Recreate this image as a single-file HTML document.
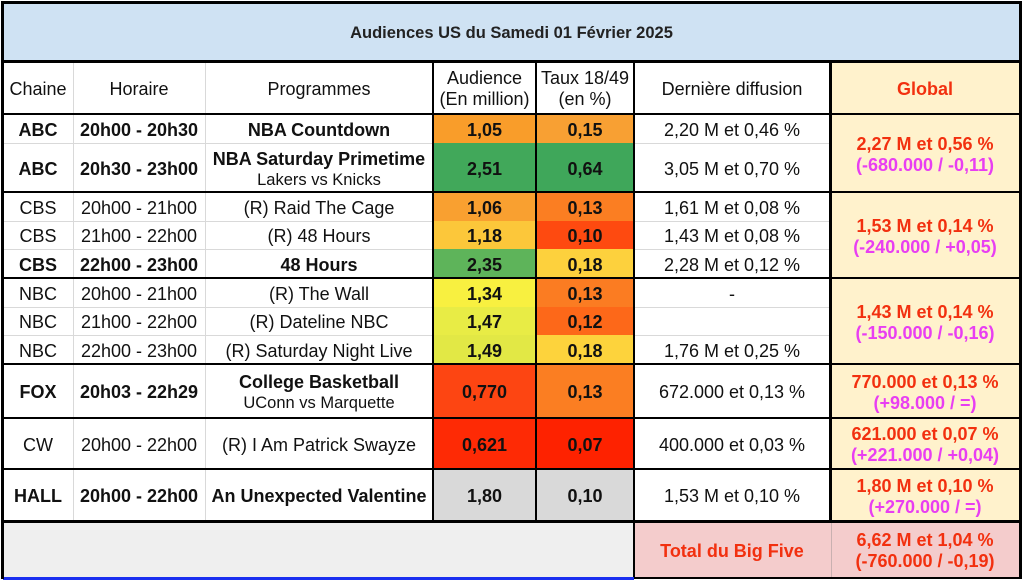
<!DOCTYPE html>
<html><head><meta charset="utf-8"><style>
body{margin:0;width:1022px;height:581px;background:#fff;position:relative;overflow:hidden;font-family:"Liberation Sans",Arial,sans-serif;color:#111}
.c{position:absolute;display:flex;flex-direction:column;align-items:center;justify-content:center;text-align:center;font-size:18px;line-height:21px;white-space:nowrap;box-sizing:border-box;padding-top:3px}
.b{font-weight:bold}
.s{font-weight:normal;font-size:16.5px;line-height:20px}
.r{color:#f2300f;font-weight:bold;font-size:18px}
.m{color:#e83ef2;font-weight:bold;font-size:18px}
.l{position:absolute;background:#000}
.g{position:absolute;background:#d9d9d9}
</style></head><body>
<div class="c b" style="left:3px;top:3px;width:1017px;height:58px;background:#cfe2f3;font-size:16.5px;color:#222">Audiences US du Samedi 01 Février 2025</div>
<div class="c" style="left:3px;top:61px;width:70px;height:53px">Chaine</div>
<div class="c" style="left:73px;top:61px;width:132px;height:53px">Horaire</div>
<div class="c" style="left:205px;top:61px;width:228px;height:53px">Programmes</div>
<div class="c" style="left:433px;top:61px;width:103px;height:53px">Audience<br>(En million)</div>
<div class="c" style="left:536px;top:61px;width:98px;height:53px">Taux 18/49<br>(en %)</div>
<div class="c" style="left:634px;top:61px;width:196px;height:53px">Dernière diffusion</div>
<div class="c r" style="left:830px;top:61px;width:190px;height:53px;background:#fff2cc">Global</div>

<div class="c b" style="left:3px;top:114px;width:70px;height:29px">ABC</div>
<div class="c b" style="left:73px;top:114px;width:132px;height:29px">20h00 - 20h30</div>
<div class="c b" style="left:205px;top:114px;width:228px;height:29px">NBA Countdown</div>
<div class="c b" style="left:433px;top:114px;width:103px;height:29px;background:#f99d2a">1,05</div>
<div class="c b" style="left:536px;top:114px;width:98px;height:29px;background:#f8a033">0,15</div>
<div class="c" style="left:634px;top:114px;width:196px;height:29px">2,20 M et 0,46 %</div>
<div class="c b" style="left:3px;top:143px;width:70px;height:49px">ABC</div>
<div class="c b" style="left:73px;top:143px;width:132px;height:49px">20h30 - 23h00</div>
<div class="c b" style="left:205px;top:143px;width:228px;height:49px">NBA Saturday Primetime<span class="s">Lakers vs Knicks</span></div>
<div class="c b" style="left:433px;top:143px;width:103px;height:49px;background:#41a85a">2,51</div>
<div class="c b" style="left:536px;top:143px;width:98px;height:49px;background:#3fa75a">0,64</div>
<div class="c" style="left:634px;top:143px;width:196px;height:49px">3,05 M et 0,70 %</div>
<div class="c" style="left:830px;top:114px;width:190px;height:78px;background:#fff2cc"><span class="r">2,27 M et 0,56 %</span><span class="m">(-680.000 / -0,11)</span></div>

<div class="c" style="left:3px;top:192px;width:70px;height:29px">CBS</div>
<div class="c" style="left:73px;top:192px;width:132px;height:29px">20h00 - 21h00</div>
<div class="c" style="left:205px;top:192px;width:228px;height:29px">(R) Raid The Cage</div>
<div class="c b" style="left:433px;top:192px;width:103px;height:29px;background:#f9a030">1,06</div>
<div class="c b" style="left:536px;top:192px;width:98px;height:29px;background:#fb7e22">0,13</div>
<div class="c" style="left:634px;top:192px;width:196px;height:29px">1,61 M et 0,08 %</div>
<div class="c" style="left:3px;top:221px;width:70px;height:28px">CBS</div>
<div class="c" style="left:73px;top:221px;width:132px;height:28px">21h00 - 22h00</div>
<div class="c" style="left:205px;top:221px;width:228px;height:28px">(R) 48 Hours</div>
<div class="c b" style="left:433px;top:221px;width:103px;height:28px;background:#fcc73a">1,18</div>
<div class="c b" style="left:536px;top:221px;width:98px;height:28px;background:#fe4a10">0,10</div>
<div class="c" style="left:634px;top:221px;width:196px;height:28px">1,43 M et 0,08 %</div>
<div class="c b" style="left:3px;top:249px;width:70px;height:29px">CBS</div>
<div class="c b" style="left:73px;top:249px;width:132px;height:29px">22h00 - 23h00</div>
<div class="c b" style="left:205px;top:249px;width:228px;height:29px">48 Hours</div>
<div class="c b" style="left:433px;top:249px;width:103px;height:29px;background:#5eb45a">2,35</div>
<div class="c b" style="left:536px;top:249px;width:98px;height:29px;background:#fdd13d">0,18</div>
<div class="c" style="left:634px;top:249px;width:196px;height:29px">2,28 M et 0,12 %</div>
<div class="c" style="left:830px;top:192px;width:190px;height:86px;background:#fff2cc"><span class="r">1,53 M et 0,14 %</span><span class="m">(-240.000 / +0,05)</span></div>

<div class="c" style="left:3px;top:278px;width:70px;height:29px">NBC</div>
<div class="c" style="left:73px;top:278px;width:132px;height:29px">20h00 - 21h00</div>
<div class="c" style="left:205px;top:278px;width:228px;height:29px">(R) The Wall</div>
<div class="c b" style="left:433px;top:278px;width:103px;height:29px;background:#f8f040">1,34</div>
<div class="c b" style="left:536px;top:278px;width:98px;height:29px;background:#fb7c22">0,13</div>
<div class="c" style="left:634px;top:278px;width:196px;height:29px">-</div>
<div class="c" style="left:3px;top:307px;width:70px;height:28px">NBC</div>
<div class="c" style="left:73px;top:307px;width:132px;height:28px">21h00 - 22h00</div>
<div class="c" style="left:205px;top:307px;width:228px;height:28px">(R) Dateline NBC</div>
<div class="c b" style="left:433px;top:307px;width:103px;height:28px;background:#e8ec45">1,47</div>
<div class="c b" style="left:536px;top:307px;width:98px;height:28px;background:#fd6819">0,12</div>
<div class="c" style="left:3px;top:335px;width:70px;height:29px">NBC</div>
<div class="c" style="left:73px;top:335px;width:132px;height:29px">22h00 - 23h00</div>
<div class="c" style="left:205px;top:335px;width:228px;height:29px">(R) Saturday Night Live</div>
<div class="c b" style="left:433px;top:335px;width:103px;height:29px;background:#e2e845">1,49</div>
<div class="c b" style="left:536px;top:335px;width:98px;height:29px;background:#fdd33c">0,18</div>
<div class="c" style="left:634px;top:335px;width:196px;height:29px">1,76 M et 0,25 %</div>
<div class="c" style="left:830px;top:278px;width:190px;height:86px;background:#fff2cc"><span class="r">1,43 M et 0,14 %</span><span class="m">(-150.000 / -0,16)</span></div>

<div class="c b" style="left:3px;top:364px;width:70px;height:54px">FOX</div>
<div class="c b" style="left:73px;top:364px;width:132px;height:54px">20h03 - 22h29</div>
<div class="c b" style="left:205px;top:364px;width:228px;height:54px">College Basketball<span class="s">UConn vs Marquette</span></div>
<div class="c b" style="left:433px;top:364px;width:103px;height:54px;background:#fd4512">0,770</div>
<div class="c b" style="left:536px;top:364px;width:98px;height:54px;background:#fb7e22">0,13</div>
<div class="c" style="left:634px;top:364px;width:196px;height:54px">672.000 et 0,13 %</div>
<div class="c" style="left:830px;top:364px;width:190px;height:54px;background:#fff2cc"><span class="r">770.000 et 0,13 %</span><span class="m">(+98.000 / =)</span></div>

<div class="c" style="left:3px;top:418px;width:70px;height:51px">CW</div>
<div class="c" style="left:73px;top:418px;width:132px;height:51px">20h00 - 22h00</div>
<div class="c" style="left:205px;top:418px;width:228px;height:51px">(R) I Am Patrick Swayze</div>
<div class="c b" style="left:433px;top:418px;width:103px;height:51px;background:#fe2a05">0,621</div>
<div class="c b" style="left:536px;top:418px;width:98px;height:51px;background:#fe2200">0,07</div>
<div class="c" style="left:634px;top:418px;width:196px;height:51px">400.000 et 0,03 %</div>
<div class="c" style="left:830px;top:418px;width:190px;height:51px;background:#fff2cc"><span class="r">621.000 et 0,07 %</span><span class="m">(+221.000 / +0,04)</span></div>

<div class="c b" style="left:3px;top:469px;width:70px;height:52px">HALL</div>
<div class="c b" style="left:73px;top:469px;width:132px;height:52px">20h00 - 22h00</div>
<div class="c b" style="left:205px;top:469px;width:228px;height:52px">An Unexpected Valentine</div>
<div class="c b" style="left:433px;top:469px;width:103px;height:52px;background:#d9d9d9">1,80</div>
<div class="c b" style="left:536px;top:469px;width:98px;height:52px;background:#d9d9d9">0,10</div>
<div class="c" style="left:634px;top:469px;width:196px;height:52px">1,53 M et 0,10 %</div>
<div class="c" style="left:830px;top:469px;width:190px;height:52px;background:#fff2cc"><span class="r">1,80 M et 0,10 %</span><span class="m">(+270.000 / =)</span></div>

<div class="c" style="left:3px;top:521px;width:631px;height:57px;background:#efefef"></div>
<div class="c r" style="left:634px;top:521px;width:196px;height:57px;background:#f4cccc">Total du Big Five</div>
<div class="c" style="left:830px;top:521px;width:190px;height:57px;background:#f4cccc"><span class="r">6,62 M et 1,04 %</span><span class="r">(-760.000 / -0,19)</span></div>

<div class="g" style="left:73px;top:61px;width:1px;height:460px"></div>
<div class="g" style="left:205px;top:61px;width:1px;height:460px"></div>
<div class="g" style="left:831px;top:521px;width:1px;height:57px;background:#c9b0b0"></div>
<div class="g" style="left:3px;top:143px;width:430px;height:1px"></div>
<div class="g" style="left:634px;top:143px;width:196px;height:1px"></div>
<div class="g" style="left:3px;top:221px;width:430px;height:1px"></div>
<div class="g" style="left:634px;top:221px;width:196px;height:1px"></div>
<div class="g" style="left:3px;top:249px;width:430px;height:1px"></div>
<div class="g" style="left:634px;top:249px;width:196px;height:1px"></div>
<div class="g" style="left:3px;top:307px;width:430px;height:1px"></div>
<div class="g" style="left:634px;top:307px;width:196px;height:1px"></div>
<div class="g" style="left:3px;top:335px;width:430px;height:1px"></div>
<div class="g" style="left:634px;top:335px;width:196px;height:1px"></div>

<div class="l" style="left:432px;top:61px;width:2px;height:460px"></div>
<div class="l" style="left:535px;top:61px;width:2px;height:460px"></div>
<div class="l" style="left:633px;top:61px;width:2px;height:518px"></div>
<div class="l" style="left:829px;top:61px;width:3px;height:460px"></div>
<div class="l" style="left:2px;top:60px;width:1019px;height:3px"></div>
<div class="l" style="left:2px;top:113px;width:1019px;height:2px"></div>
<div class="l" style="left:2px;top:191px;width:1019px;height:2px"></div>
<div class="l" style="left:2px;top:277px;width:1019px;height:2px"></div>
<div class="l" style="left:2px;top:363px;width:1019px;height:2px"></div>
<div class="l" style="left:2px;top:417px;width:1019px;height:2px"></div>
<div class="l" style="left:2px;top:468px;width:1019px;height:2px"></div>
<div class="l" style="left:2px;top:520px;width:1019px;height:3px"></div>
<div class="l" style="left:634px;top:577px;width:387px;height:2px"></div>
<div class="l" style="left:3px;top:577px;width:631px;height:3px;background:#1a2ff0"></div>
<div class="l" style="left:1px;top:1px;width:1021px;height:3px"></div>
<div class="l" style="left:1px;top:1px;width:3px;height:578px"></div>
<div class="l" style="left:1019px;top:1px;width:3px;height:578px"></div>
</body></html>
